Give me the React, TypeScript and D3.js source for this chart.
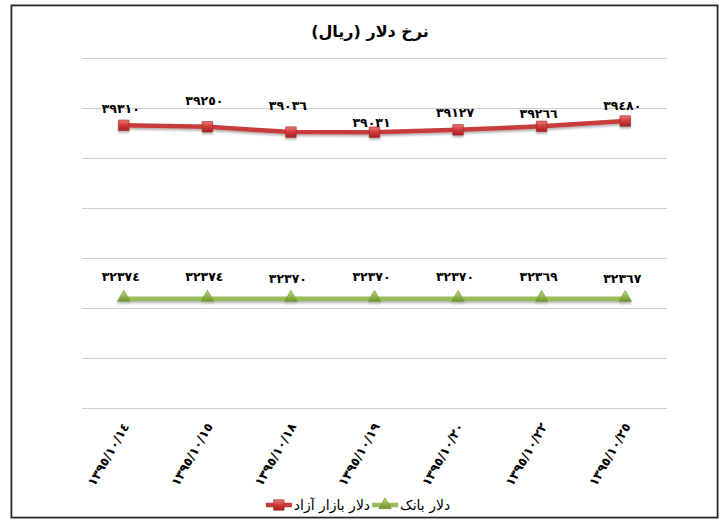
import { useEffect, useRef } from 'react'
import * as d3 from 'd3'

const W = 726
const H = 521

const dates = ['1395/10/14', '1395/10/15', '1395/10/18', '1395/10/19', '1395/10/20', '1395/10/22', '1395/10/25']
const freeMarket = [39310, 39250, 39036, 39031, 39127, 39266, 39480]
const bankRate = [32374, 32374, 32370, 32370, 32370, 32369, 32367]
const seriesNames = ['دلار بازار آزاد', 'دلار بانک']
const chartTitle = 'نرخ دلار (ریال)'
const yDomain = [28000, 42000]

// how far each data label sits above its point (px), as placed in the source sheet
const freeLift = [17, 26, 27, 10, 17, 13, 16]
const bankLift = [22, 22, 20, 22, 22, 22, 20]

const AR = '٠١٢٣٤٥٦٧٨٩'
const arDigits = (s: string | number) => String(s).replace(/\d/g, (d) => AR[+d])

const FONT = '"DejaVu Sans", sans-serif'

export default function App() {
  const ref = useRef<SVGSVGElement>(null)

  useEffect(() => {
    const svg = d3.select(ref.current)
    svg.selectAll('*').remove()

    const x = d3.scaleBand<string>().domain(dates).range([82, 667])
    const y = d3.scaleLinear().domain(yDomain).range([408, 58])
    const cx = (d: string) => (x(d) ?? 0) + x.bandwidth() / 2

    const defs = svg.append('defs')
    const redGrad = defs.append('linearGradient').attr('id', 'redG').attr('x1', 0).attr('y1', 0).attr('x2', 0).attr('y2', 1)
    redGrad.append('stop').attr('offset', '0%').attr('stop-color', '#ec7a78')
    redGrad.append('stop').attr('offset', '50%').attr('stop-color', '#cf3a38')
    redGrad.append('stop').attr('offset', '100%').attr('stop-color', '#a42422')
    const greenGrad = defs.append('linearGradient').attr('id', 'greenG').attr('x1', 0).attr('y1', 0).attr('x2', 0).attr('y2', 1)
    greenGrad.append('stop').attr('offset', '0%').attr('stop-color', '#b9d97a')
    greenGrad.append('stop').attr('offset', '60%').attr('stop-color', '#8db246')
    greenGrad.append('stop').attr('offset', '100%').attr('stop-color', '#6c922c')
    const shadow = defs.append('filter').attr('id', 'sh').attr('filterUnits', 'userSpaceOnUse')
      .attr('x', 0).attr('y', 0).attr('width', W).attr('height', H)
    shadow.append('feDropShadow').attr('dx', 0).attr('dy', 2).attr('stdDeviation', 1.2).attr('flood-color', '#000').attr('flood-opacity', 0.3)

    // frame
    svg.append('rect').attr('x', 10.5).attr('y', 4.5).attr('width', 708).attr('height', 514)
      .attr('fill', 'none').attr('stroke', '#cfcfcf').attr('stroke-width', 1)
    svg.append('rect').attr('x', 11.5).attr('y', 5.5).attr('width', 706).attr('height', 512)
      .attr('fill', '#fff').attr('stroke', '#262626').attr('stroke-width', 1.6)

    // title
    svg.append('text').attr('x', 370).attr('y', 31).attr('text-anchor', 'middle').attr('dominant-baseline', 'central')
      .attr('direction', 'rtl').attr('font-family', FONT).attr('font-weight', 'bold').attr('font-size', 16)
      .text(chartTitle)

    // gridlines
    svg.append('g').selectAll('line').data(y.ticks(7)).join('line')
      .attr('x1', 82).attr('x2', 667)
      .attr('y1', (d) => Math.round(y(d)) + 0.5).attr('y2', (d) => Math.round(y(d)) + 0.5)
      .attr('stroke', '#cdcdcd').attr('stroke-width', 1.2)

    // x labels
    svg.append('g').selectAll('text').data(dates).join('text')
      .attr('transform', (d) => `translate(${cx(d) + 2},${424}) rotate(-60)`)
      .attr('text-anchor', 'end').attr('dominant-baseline', 'central')
      .attr('font-family', FONT).attr('font-weight', 'bold').attr('font-size', 12.5)
      .attr('letter-spacing', 2.4)
      .text((d) => arDigits(d))

    const line = d3.line<number>().x((_, i) => cx(dates[i])).y((d) => y(d))

    const square = d3.symbol().type(d3.symbolSquare).size(110)
    const triangle = d3.symbol().type(d3.symbolTriangle).size(70)

    // bank series
    const gBank = svg.append('g').attr('filter', 'url(#sh)')
    gBank.append('path').attr('d', line(bankRate)).attr('fill', 'none').attr('stroke', '#9bbb59')
      .attr('stroke-width', 4.5)
    gBank.append('g').selectAll('path').data(bankRate).join('path')
      .attr('d', triangle()).attr('transform', (d, i) => `translate(${cx(dates[i])},${y(d) - 1})`)
      .attr('fill', 'url(#greenG)').attr('stroke', '#6f9530').attr('stroke-width', 0.6)

    // free market series
    const gFree = svg.append('g').attr('filter', 'url(#sh)')
    gFree.append('path').attr('d', line(freeMarket)).attr('fill', 'none').attr('stroke', '#c63c3a')
      .attr('stroke-width', 4.5)
    gFree.append('g').selectAll('path').data(freeMarket).join('path')
      .attr('d', square()).attr('transform', (d, i) => `translate(${cx(dates[i])},${y(d)})`)
      .attr('fill', 'url(#redG)').attr('stroke', '#9c2220').attr('stroke-width', 0.6)

    // data labels
    const labels = (vals: number[], lift: number[]) =>
      svg.append('g').selectAll('text').data(vals).join('text')
        .attr('x', (_, i) => cx(dates[i]) - 3).attr('y', (d, i) => y(d) - lift[i])
        .attr('text-anchor', 'middle').attr('dominant-baseline', 'central')
        .attr('font-family', FONT).attr('font-weight', 'bold').attr('font-size', 12.5)
        .attr('letter-spacing', 2)
        .text((d) => arDigits(d))
    labels(freeMarket, freeLift)
    labels(bankRate, bankLift)

    // legend
    const lg = svg.append('g')
    const ly = 505
    const symW = 26
    const items = [
      { name: seriesNames[0], color: '#c63c3a', fill: 'url(#redG)', sym: square, stroke: '#9c2220' },
      { name: seriesNames[1], color: '#9bbb59', fill: 'url(#greenG)', sym: triangle, stroke: '#6f9530' },
    ]
    let cursor = 0
    items.forEach((it) => {
      const g = lg.append('g').attr('transform', `translate(${cursor},0)`)
      g.append('line').attr('x1', 0).attr('x2', symW).attr('y1', ly).attr('y2', ly)
        .attr('stroke', it.color).attr('stroke-width', 4.5)
      g.append('path').attr('d', it.sym()).attr('transform', `translate(${symW / 2},${ly})`)
        .attr('fill', it.fill).attr('stroke', it.stroke).attr('stroke-width', 0.6)
      const t = g.append('text').attr('x', symW + 2).attr('y', ly).attr('dominant-baseline', 'central')
        .attr('font-family', FONT).attr('font-size', 14).attr('fill', '#000').text(it.name)
      const tw = (t.node() as SVGTextElement).getComputedTextLength()
      cursor += symW + 2 + tw + 2
    })
    const total = cursor - 2
    lg.attr('transform', `translate(${358 - total / 2},0)`)
  }, [])

  return (
    <svg
      ref={ref}
      width={W}
      height={H}
      viewBox={`0 0 ${W} ${H}`}
      style={{ position: 'absolute', left: 0, top: 0, display: 'block', background: '#fff' }}
    />
  )
}
